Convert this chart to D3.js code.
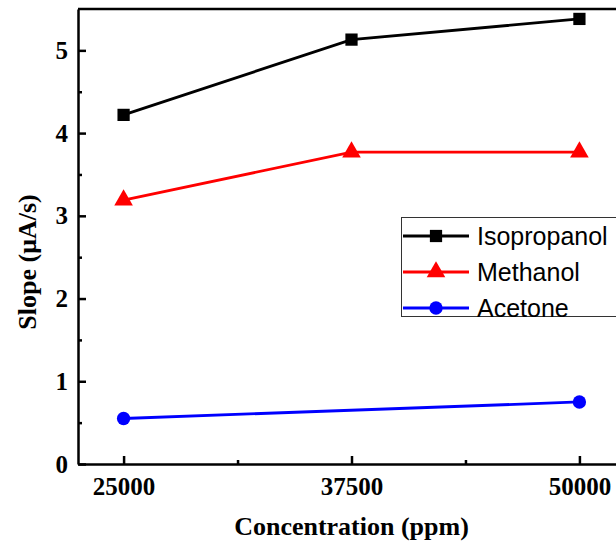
<!DOCTYPE html>
<html>
<head>
<meta charset="utf-8">
<script src="https://cdn.jsdelivr.net/npm/d3@7"></script>
<style>
  html, body { margin: 0; padding: 0; background: #fff; }
  svg { display: block; }
  .axis text { font-family: "Liberation Serif", "Times New Roman", serif; font-weight: bold; font-size: 25px; fill: #000; }
  .axis path, .axis line { stroke: #000; stroke-width: 2.5px; }
  .title { font-family: "Liberation Serif", "Times New Roman", serif; font-weight: bold; font-size: 26px; fill: #000; }
  .legend text { font-family: "Liberation Sans", Arial, sans-serif; font-size: 25px; fill: #000; }
</style>
</head>
<body>
<svg id="chart" width="616" height="545"></svg>
<script>
// Sensor response slope versus analyte concentration
const concentrations = [25000, 37500, 50000];
const isopropanol = [4.22, 5.13, 5.38];
const methanol = [3.19, 3.77, 3.77];
const acetoneConc = [25000, 50000];
const acetone = [0.55, 0.75];
const xTicks = [25000, 37500, 50000];
const xMinorTicks = [31250, 43750];
const yTicks = [0, 1, 2, 3, 4, 5];
const yMinorTicks = [0.5, 1.5, 2.5, 3.5, 4.5];

const series = [
  { name: "Isopropanol", color: "#000000", shape: "square",
    points: concentrations.map((c, i) => [c, isopropanol[i]]) },
  { name: "Methanol", color: "#ff0000", shape: "triangle",
    points: concentrations.map((c, i) => [c, methanol[i]]) },
  { name: "Acetone", color: "#0000ff", shape: "circle",
    points: acetoneConc.map((c, i) => [c, acetone[i]]) }
];

const svg = d3.select("#chart");
const plotLeft = 78, plotRight = 625, plotTop = 9, plotBottom = 464;

const x = d3.scaleLinear().domain([22500, 52500]).range([plotLeft, plotRight]);
const y = d3.scaleLinear().domain([0, 5.5]).range([plotBottom, plotTop]);

// frame: top border and right axis line
svg.append("line").attr("x1", plotLeft).attr("x2", plotRight).attr("y1", plotTop).attr("y2", plotTop)
  .attr("stroke", "#000").attr("stroke-width", 2.5);
svg.append("line").attr("x1", plotRight).attr("x2", plotRight).attr("y1", plotTop).attr("y2", plotBottom)
  .attr("stroke", "#000").attr("stroke-width", 2.5);

// x axis, ticks pointing inward
svg.append("g").attr("class", "axis").attr("transform", `translate(0,${plotBottom})`)
  .call(d3.axisBottom(x).tickValues(xTicks).tickFormat(d3.format("d")).tickSizeInner(-8).tickSizeOuter(0).tickPadding(13));
svg.append("g").attr("class", "axis").attr("transform", `translate(0,${plotBottom})`)
  .call(d3.axisBottom(x).tickValues(xMinorTicks).tickFormat("").tickSizeInner(-4).tickSizeOuter(0))
  .select(".domain").remove();

// y axis, ticks pointing inward
svg.append("g").attr("class", "axis").attr("transform", `translate(${plotLeft},0)`)
  .call(d3.axisLeft(y).tickValues(yTicks).tickFormat(d3.format("d")).tickSizeInner(-8).tickSizeOuter(0).tickPadding(10));
svg.append("g").attr("class", "axis").attr("transform", `translate(${plotLeft},0)`)
  .call(d3.axisLeft(y).tickValues(yMinorTicks).tickFormat("").tickSizeInner(-4).tickSizeOuter(0))
  .select(".domain").remove();

// axis titles
svg.append("text").attr("class", "title").attr("x", (plotLeft + plotRight) / 2).attr("y", 535)
  .attr("text-anchor", "middle").text("Concentration (ppm)");
svg.append("text").attr("class", "title")
  .attr("transform", "translate(36,262) rotate(-90)")
  .attr("text-anchor", "middle").text("Slope (\u03bcA/s)");

const symbols = {
  square: d3.symbol().type(d3.symbolSquare).size(150),
  triangle: d3.symbol().type(d3.symbolTriangle).size(150),
  circle: d3.symbol().type(d3.symbolCircle).size(140)
};

const line = d3.line().x(d => x(d[0])).y(d => y(d[1]));

series.forEach(s => {
  svg.append("path").datum(s.points).attr("d", line)
    .attr("fill", "none").attr("stroke", s.color).attr("stroke-width", 2.8);
  svg.selectAll(null).data(s.points).enter().append("path")
    .attr("d", symbols[s.shape])
    .attr("transform", d => `translate(${x(d[0])},${y(d[1])})`)
    .attr("fill", s.color);
});

// legend
const lg = svg.append("g").attr("class", "legend");
lg.append("rect").attr("x", 401.5).attr("y", 217.5).attr("width", 240).attr("height", 99)
  .attr("fill", "#fff").attr("stroke", "#333").attr("stroke-width", 1);
series.forEach((s, i) => {
  const cy = 236 + i * 36;
  lg.append("line").attr("x1", 403).attr("x2", 469).attr("y1", cy).attr("y2", cy)
    .attr("stroke", s.color).attr("stroke-width", 2.8);
  lg.append("path").attr("d", symbols[s.shape]).attr("transform", `translate(436,${cy})`).attr("fill", s.color);
  lg.append("text").attr("x", 477).attr("y", cy).attr("dy", "0.36em").text(s.name);
});
</script>
</body>
</html>
